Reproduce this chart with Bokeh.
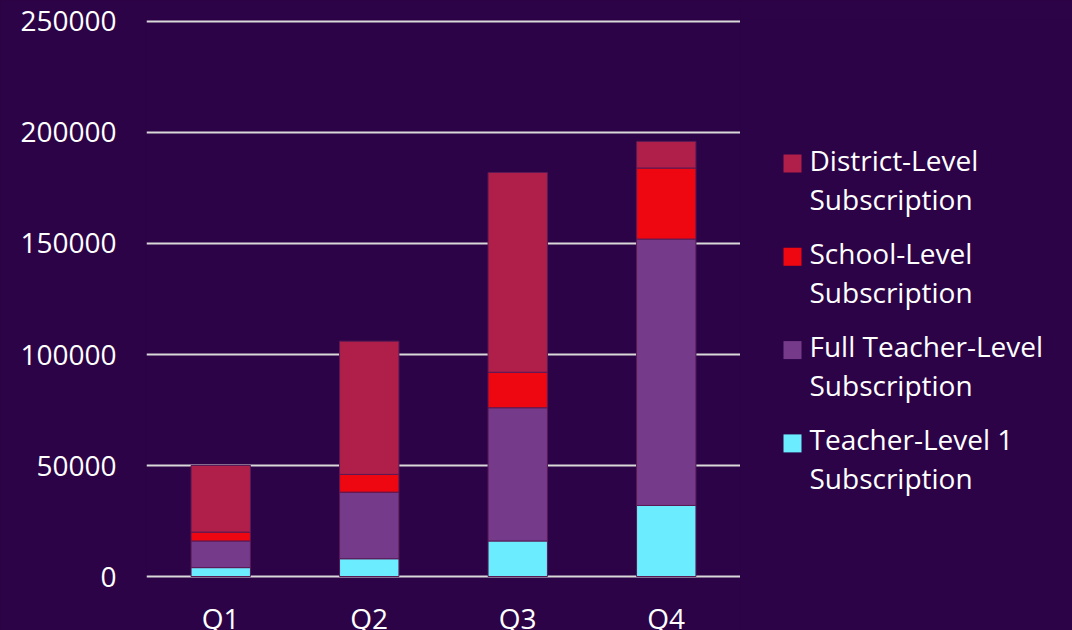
from bokeh.plotting import figure
from bokeh.models import FactorRange, SingleIntervalTicker, Range1d
from bokeh.layouts import row
from bokeh.core.properties import value
from bokeh.embed import file_html
from bokeh.resources import INLINE

quarters = ["Q1", "Q2", "Q3", "Q4"]
teacher1 = [4000, 8000, 16000, 32000]
full_teacher = [12000, 30000, 60000, 120000]
school = [4000, 8000, 16000, 32000]
district = [30000, 60000, 90000, 12000]

series = ["teacher1", "full_teacher", "school", "district"]
labels = ["Teacher-Level 1\nSubscription", "Full Teacher-Level\nSubscription",
          "School-Level\nSubscription", "District-Level\nSubscription"]
colors = ["#6BECFF", "#763A8A", "#EE0610", "#AF1F4A"]

BG = "#2C0346"
FONT = "Open Sans"
FS = "28px"

data = dict(q=quarters, teacher1=teacher1, full_teacher=full_teacher,
            school=school, district=district)

p = figure(x_range=FactorRange(*quarters, range_padding=0),
           y_range=Range1d(-900, 250900),
           width=740, height=630, frame_width=594, frame_height=559,
           output_backend="svg", toolbar_location=None,
           min_border_left=146, min_border_top=19, min_border_right=0)
p.title.visible = False
p.background_fill_color = BG
p.border_fill_color = BG
p.outline_line_color = None

p.vbar_stack(series, x="q", width=0.4, source=data, color=colors,
             line_color="#5A1A55", line_width=1)

p.xgrid.grid_line_color = None
p.ygrid.grid_line_color = "#D9D9D9"
p.ygrid.grid_line_width = 2
p.ygrid.level = "underlay"
p.yaxis.ticker = SingleIntervalTicker(interval=50000)
p.yaxis.formatter.use_scientific = False
for ax in (p.xaxis[0], p.yaxis[0]):
    ax.axis_line_color = None
    ax.major_tick_line_color = None
    ax.minor_tick_line_color = None
    ax.major_tick_out = 0
    ax.minor_tick_out = 0
    ax.major_label_text_color = "#FFFFFF"
    ax.major_label_text_font = FONT
    ax.major_label_text_font_size = FS
p.yaxis.major_label_standoff = 30
p.xaxis.major_label_standoff = 20

# legend panel drawn as its own small figure (pixel coordinates)
lg = figure(width=332, height=630, frame_width=332, frame_height=630,
            x_range=Range1d(0, 332), y_range=Range1d(630, 0),
            output_backend="svg", toolbar_location=None, min_border=0)
lg.title.visible = False
lg.axis.visible = False
lg.grid.visible = False
lg.outline_line_color = None
lg.background_fill_color = BG
lg.border_fill_color = BG

order = [3, 2, 1, 0]
first_y = 144
step = 93.3
line_gap = 39
text_shift = -4
sq_x, sq_y, t_x, t_y, t_txt, sq_c = [], [], [], [], [], []
for k, i in enumerate(order):
    yc = first_y + k * step
    sq_x.append(52)
    sq_y.append(yc)
    sq_c.append(colors[i])
    for j, part in enumerate(labels[i].split("\n")):
        t_x.append(69)
        t_y.append(yc + text_shift + j * line_gap)
        t_txt.append(part)

lg.rect(x=sq_x, y=sq_y, width=18, height=18, fill_color=sq_c, line_color=None)
lg.text(x=t_x, y=t_y, text=t_txt, text_color="#FFFFFF", text_font=value(FONT),
        text_font_size=FS, text_baseline="middle", text_align="left")

layout = row(p, lg, spacing=0, styles={"background-color": BG})
open("out.html", "w").write(file_html(layout, INLINE))
